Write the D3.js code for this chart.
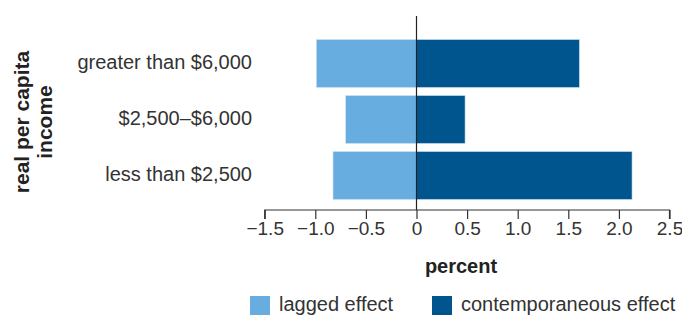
<!DOCTYPE html>
<html>
<head>
<meta charset="utf-8">
<script src="https://cdn.jsdelivr.net/npm/d3@7"></script>
<style>
  body { margin: 0; background: #fff; }
  svg { display: block; }
  .tick text { font-family: "Liberation Sans", Arial, sans-serif; }
</style>
</head>
<body>
<svg id="chart" width="682" height="315"></svg>
<script>
// data
const categories = ['greater than $6,000', '$2,500\u2013$6,000', 'less than $2,500'];
const lagged = [-0.99, -0.70, -0.825];
const contemporaneous = [1.61, 0.48, 2.13];
const xTicks = [-1.5, -1.0, -0.5, 0, 0.5, 1.0, 1.5, 2.0, 2.5];
const seriesNames = ['lagged effect', 'contemporaneous effect'];
const colors = ['#68ade0', '#00558e'];

const width = 682, height = 315;
const svg = d3.select('#chart');

const x = d3.scaleLinear()
  .domain([-1.5, 2.5])
  .range([264.7, 669.5]);

const y = d3.scaleBand()
  .domain(categories)
  .range([35.5, 203.5])
  .paddingInner(1/7)
  .paddingOuter(1/14);

const series = [lagged, contemporaneous];

// bars
series.forEach((vals, s) => {
  svg.append('g')
    .selectAll('rect')
    .data(vals)
    .join('rect')
    .attr('x', d => x(Math.min(0, d)))
    .attr('width', d => Math.abs(x(d) - x(0)))
    .attr('y', (d, i) => y(categories[i]))
    .attr('height', y.bandwidth())
    .attr('fill', colors[s])
    .attr('stroke', '#cfe3f3')
    .attr('stroke-width', 0.6);
});

// zero line
svg.append('line')
  .attr('x1', x(0)).attr('x2', x(0))
  .attr('y1', 16).attr('y2', 210)
  .attr('stroke', '#222')
  .attr('stroke-width', 1.2);

// x axis
const fmt = d => d === 0 ? '0' : d3.format('.1f')(d).replace('-', '\u2212');
const xAxis = svg.append('g')
  .attr('transform', 'translate(0,210)')
  .call(d3.axisBottom(x).tickValues(xTicks).tickFormat(fmt).tickSize(9).tickPadding(3));
xAxis.select('.domain').attr('stroke', '#333').attr('stroke-width', 1.2).attr('d', `M${x(-1.5)},9V0H${x(2.5)}V9`);
xAxis.selectAll('.tick line').attr('stroke', '#333').attr('stroke-width', 1.2);
xAxis.selectAll('.tick text')
  .attr('fill', '#333')
  .style('font-size', '19px');

// category labels
svg.append('g')
  .selectAll('text')
  .data(categories)
  .join('text')
  .attr('x', 252)
  .attr('y', d => y(d) + y.bandwidth() / 2 - 2)
  .attr('text-anchor', 'end')
  .attr('dominant-baseline', 'central')
  .attr('fill', '#333')
  .style('font-family', '"Liberation Sans", Arial, sans-serif')
  .style('font-size', '20px')
  .text(d => d);

// axis titles
const titleFont = '"Liberation Sans", Arial, sans-serif';
svg.append('text')
  .attr('x', 461)
  .attr('y', 273)
  .attr('text-anchor', 'middle')
  .attr('fill', '#222')
  .style('font-family', titleFont)
  .style('font-weight', 'bold')
  .style('font-size', '20px')
  .text('percent');

const yTitle = svg.append('text')
  .attr('transform', 'translate(0,122) rotate(-90)')
  .attr('text-anchor', 'middle')
  .attr('fill', '#222')
  .style('font-family', titleFont)
  .style('font-weight', 'bold')
  .style('font-size', '21px');
yTitle.append('tspan').attr('x', 0).attr('y', 29).text('real per capita');
yTitle.append('tspan').attr('x', 0).attr('y', 52).text('income');

// legend
const legendX = [250, 432];
const legend = svg.append('g')
  .selectAll('g')
  .data(seriesNames)
  .join('g')
  .attr('transform', (d, i) => `translate(${legendX[i]},296)`);
legend.append('rect')
  .attr('width', 20).attr('height', 20)
  .attr('fill', (d, i) => colors[i]);
legend.append('text')
  .attr('x', 29)
  .attr('y', 15)
  .attr('fill', '#333')
  .style('font-family', '"Liberation Sans", Arial, sans-serif')
  .style('font-size', '20px')
  .text(d => d);
</script>
</body>
</html>
